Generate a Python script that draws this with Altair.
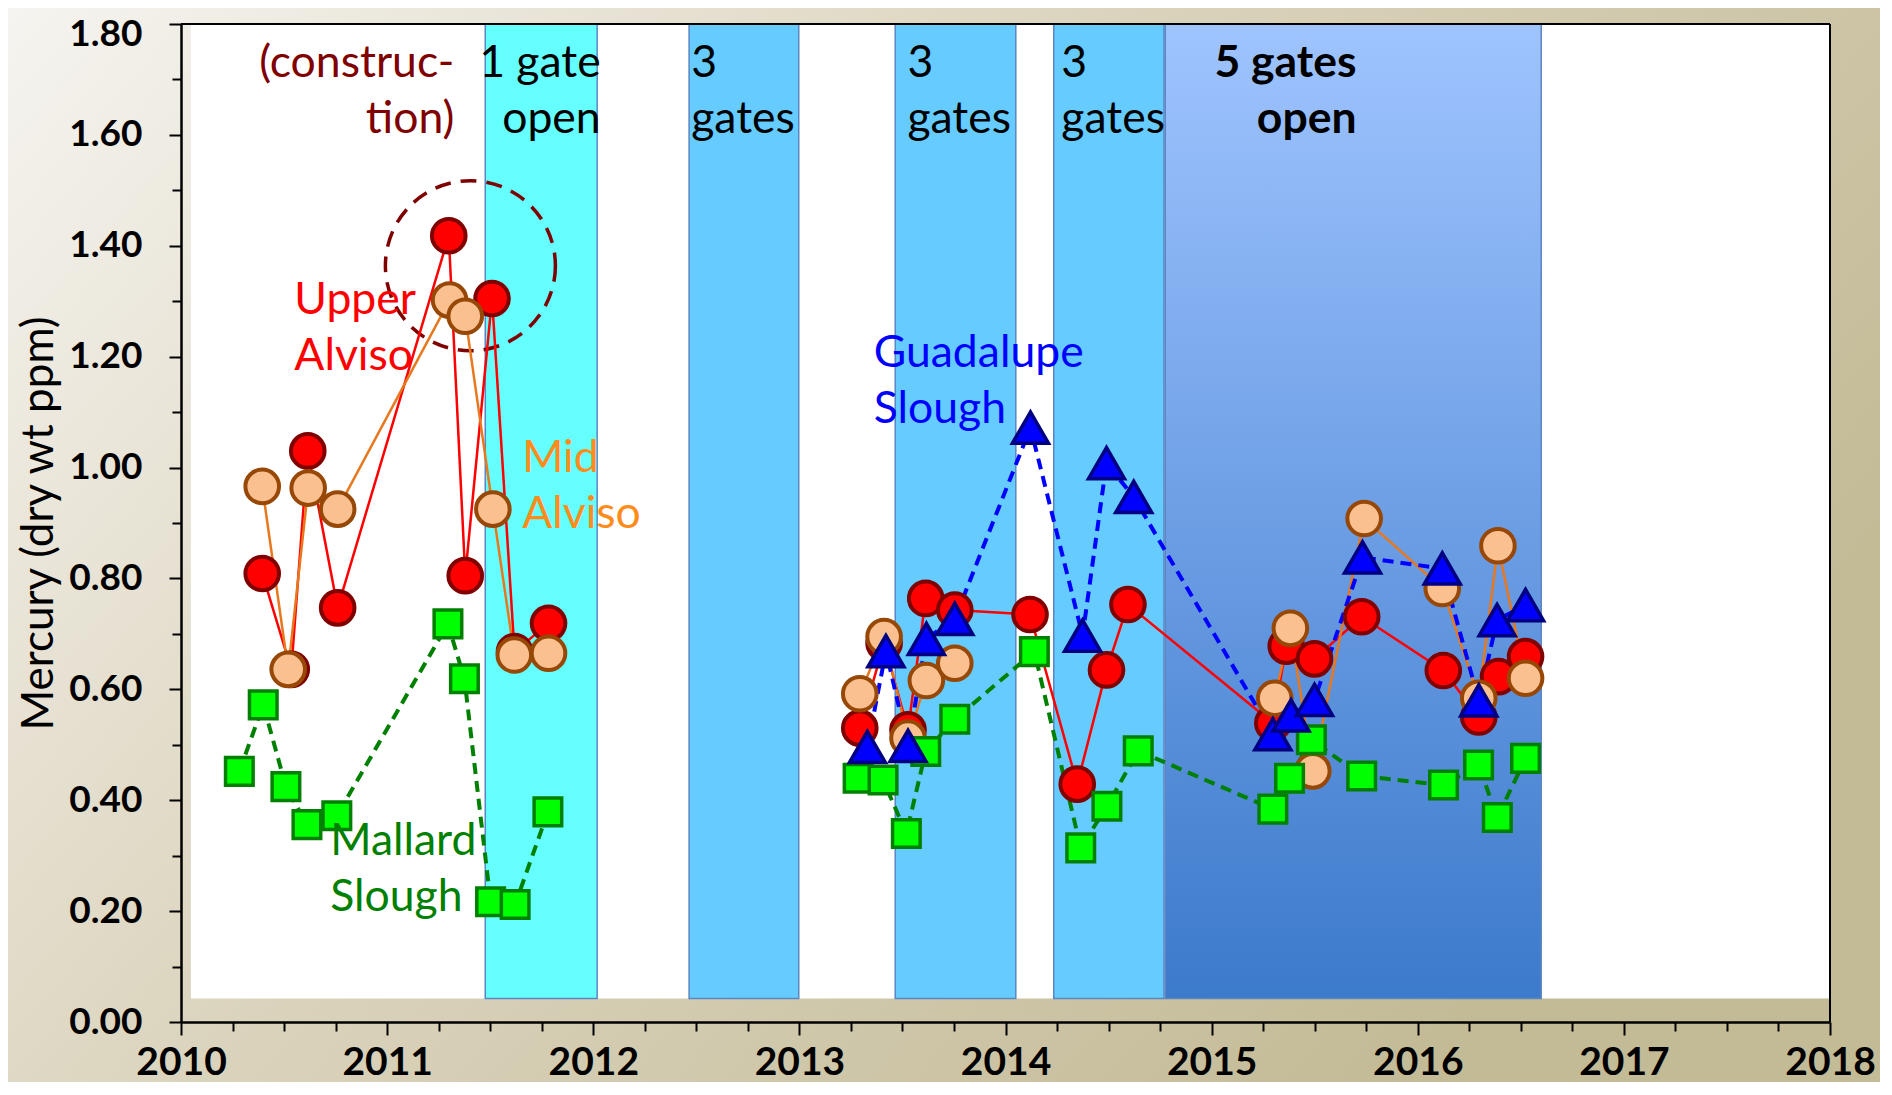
import altair as alt
import pandas as pd

# ---------------- data ----------------
# Upper Alviso (red circles, solid red line)
upper_t = [2010.394, 2010.535, 2010.615, 2010.760, 2011.299, 2011.379, 2011.509, 2011.618, 2011.783,
           2013.293, 2013.411, 2013.527, 2013.613, 2013.754, 2014.119, 2014.348, 2014.490, 2014.594,
           2015.297, 2015.362, 2015.499, 2015.728, 2016.124, 2016.296, 2016.392, 2016.523]
upper_v = [0.809, 0.636, 1.030, 0.747, 1.418, 0.805, 1.305, 0.668, 0.719,
           0.530, 0.683, 0.527, 0.764, 0.743, 0.735, 0.429, 0.635, 0.753,
           0.539, 0.678, 0.655, 0.731, 0.634, 0.550, 0.623, 0.659]
upper_seg = [0] * 9 + [1] * 17

# Mid Alviso (peach circles, orange line)
mid_t = [2010.394, 2010.520, 2010.617, 2010.760, 2011.303, 2011.379, 2011.513, 2011.617, 2011.783,
         2013.293, 2013.411, 2013.527, 2013.616, 2013.754,
         2015.306, 2015.382, 2015.491, 2015.740, 2016.119, 2016.296, 2016.389, 2016.523]
mid_v = [0.966, 0.636, 0.963, 0.925, 1.302, 1.273, 0.925, 0.662, 0.665,
         0.592, 0.695, 0.512, 0.616, 0.647,
         0.584, 0.710, 0.453, 0.908, 0.782, 0.584, 0.859, 0.620]
mid_seg = [0] * 9 + [1] * 5 + [2] * 8

# Guadalupe Slough (blue triangles, dashed blue line)
guad_t = [2013.330, 2013.420, 2013.527, 2013.616, 2013.754, 2014.121, 2014.374, 2014.490, 2014.622,
          2015.297, 2015.385, 2015.499, 2015.732, 2016.119, 2016.296, 2016.385, 2016.523]
guad_v = [0.496, 0.669, 0.498, 0.691, 0.727, 1.072, 0.697, 1.008, 0.947,
          0.519, 0.553, 0.581, 0.838, 0.818, 0.580, 0.725, 0.752]
guad_seg = [0] * 17

# Mallard Slough (green squares, dashed green line)
mallard_t = [2010.283, 2010.399, 2010.509, 2010.611, 2010.756, 2011.295, 2011.375, 2011.502, 2011.621, 2011.780,
             2013.285, 2013.406, 2013.519, 2013.613, 2013.754, 2014.140, 2014.365, 2014.492, 2014.644,
             2015.297, 2015.378, 2015.484, 2015.728, 2016.125, 2016.295, 2016.386, 2016.523]
mallard_v = [0.452, 0.572, 0.4245, 0.356, 0.372, 0.718, 0.619, 0.217, 0.212, 0.379,
             0.4395, 0.4364, 0.340, 0.488, 0.546, 0.668, 0.314, 0.389, 0.489,
             0.384, 0.4395, 0.509, 0.4437, 0.4274, 0.4635, 0.369, 0.4755]
mallard_seg = [0] * 10 + [1] * 17

# gate-opening periods
band_start = [2011.476, 2012.465, 2013.465, 2014.234]
band_end = [2012.019, 2012.997, 2014.050, 2014.769]
band_fill = ["#66ffff", "#66ccff", "#66ccff", "#66ccff"]
five_start = [2014.775]
five_end = [2016.599]
band_bottom = 0.0426

# text annotations
gate_text = ["1 gate\nopen", "3\ngates", "3\ngates", "3\ngates"]
gate_x = [2012.036, 2012.475, 2013.524, 2014.271]
gate_align = ["right", "left", "left", "left"]
five_text = ["5 gates\nopen"]
five_x = [2015.703]
constr_text = ["(construc-\ntion)"]
constr_x = [2011.326]
label_row_y = 1.705

series_text = ["Upper\nAlviso", "Mid\nAlviso", "Guadalupe\nSlough", "Mallard\nSlough"]
series_x = [2010.55, 2011.655, 2013.361, 2010.724]
series_y = [1.277, 0.992, 1.182, 0.301]
series_color = ["#ff0000", "#ff8c1a", "#0000ff", "#008000"]

# dashed circle around the 2011 peak
ring_x = [2011.404]
ring_y = [1.364]

# ---------------- tables ----------------
def series_df(t, v, s):
    return pd.DataFrame({"t": t, "v": v, "seg": s})

up_df = series_df(upper_t, upper_v, upper_seg)
mid_df = series_df(mid_t, mid_v, mid_seg)
gu_df = series_df(guad_t, guad_v, guad_seg)
ma_df = series_df(mallard_t, mallard_v, mallard_seg)

band_df = pd.DataFrame({"s": band_start, "e": band_end, "fill": band_fill,
                        "b": [band_bottom] * 4, "top": [1.8] * 4})
five_df = pd.DataFrame({"s": five_start, "e": five_end, "b": [band_bottom], "top": [1.8]})
white_df = pd.DataFrame({"s": [2010.048], "e": [2018.0], "b": [band_bottom], "top": [1.8]})
gate_df = pd.DataFrame({"x": gate_x, "y": [label_row_y] * 4, "label": gate_text, "al": gate_align})
five_lab_df = pd.DataFrame({"x": five_x, "y": [label_row_y], "label": five_text})
constr_df = pd.DataFrame({"x": constr_x, "y": [label_row_y], "label": constr_text})
series_lab_df = pd.DataFrame({"x": series_x, "y": series_y, "label": series_text, "color": series_color})
ring_df = pd.DataFrame({"x": ring_x, "y": ring_y})
top_df = pd.DataFrame({"y": [1.8]})
right_df = pd.DataFrame({"x": [2018.0]})
one_df = pd.DataFrame({"a": [0]})

# ---------------- scales & axes ----------------
FONT = "Lato"
W, H = 1649, 998
PAD = {"left": 173, "top": 16, "right": 50, "bottom": 60}

xs = alt.Scale(domain=[2010, 2018], nice=False, zero=False)
ys = alt.Scale(domain=[0, 1.8], nice=False, zero=False)

x_vals = [2010 + 0.25 * i for i in range(33)]
y_vals = [round(0.1 * i, 1) for i in range(19)]

x_axis = alt.Axis(
    title="", values=x_vals, grid=False,
    labelExpr="datum.value % 1 === 0 ? format(datum.value, 'd') : ''",
    labelFont=FONT, labelFontSize=39, labelFontWeight="bold", labelColor="black",
    labelBaseline="alphabetic", labelPadding=39, labelOverlap=False, labelFlush=False,
    tickSize={"condition": {"test": "datum.value % 1 === 0", "value": 13}, "value": 9},
    tickColor="black", tickWidth=2, domainColor="black", domainWidth=2.5, zindex=1,
)
y_axis = alt.Axis(
    title="Mercury (dry wt ppm)", values=y_vals, grid=False,
    labelExpr="round(datum.value * 10) % 2 === 0 ? format(datum.value, '.2f') : ''",
    labelFont=FONT, labelFontSize=37, labelFontWeight="bold", labelColor="black",
    labelPadding=27, labelOverlap=False, labelFlush=False,
    labelOffset={"condition": {"test": "datum.value >= 1.75", "value": 10}, "value": 0},
    tickSize={"condition": {"test": "round(datum.value * 10) % 2 === 0", "value": 12}, "value": 9},
    tickColor="black", tickWidth=2, domainColor="black", domainWidth=2.5,
    titleFont=FONT, titleFontSize=44, titleFontWeight="normal", titleColor="black",
    titleX=-129, titleY=H / 2, titleAngle=270, titleBaseline="alphabetic", titleAlign="center",
    zindex=1,
)


def X(f):
    return alt.X(f, type="quantitative", scale=xs, axis=x_axis)


def Y(f):
    return alt.Y(f, type="quantitative", scale=ys, axis=y_axis)


# ---------------- layers ----------------
bg = alt.Chart(one_df).mark_rect(
    fill=alt.Gradient(gradient="linear", x1=0, y1=0, x2=1, y2=0.5,
                      stops=[alt.GradientStop(color="#f6f4f0", offset=0),
                             alt.GradientStop(color="#dcd5bf", offset=0.45),
                             alt.GradientStop(color="#c3ba96", offset=1)])
).encode(x=alt.value(-PAD["left"]), x2=alt.value(W + PAD["right"]),
         y=alt.value(-PAD["top"]), y2=alt.value(H + PAD["bottom"]))

white = alt.Chart(white_df).mark_rect(fill="white").encode(x=X("s"), x2="e", y=Y("b"), y2="top")

bands = alt.Chart(band_df).mark_rect(stroke="#5a86c4", strokeWidth=1.5).encode(
    x=X("s"), x2="e", y=Y("b"), y2="top", fill=alt.Fill("fill:N", scale=None))

five = alt.Chart(five_df).mark_rect(
    fill=alt.Gradient(gradient="linear", x1=0, y1=0, x2=0, y2=1,
                      stops=[alt.GradientStop(color="#9fc4ff", offset=0),
                             alt.GradientStop(color="#3c7acb", offset=1)]),
    stroke="#5a86c4", strokeWidth=1.5,
).encode(x=X("s"), x2="e", y=Y("b"), y2="top")

ring = alt.Chart(ring_df).mark_point(
    shape="circle", size=28900, filled=False, color="#7f0000", strokeWidth=3.5,
    strokeDash=[16, 10], opacity=1,
).encode(x=X("x"), y=Y("y"))


def line(df, color, width, dash=None):
    kw = dict(color=color, strokeWidth=width)
    if dash:
        kw["strokeDash"] = dash
    return alt.Chart(df).mark_line(**kw).encode(x=X("t"), y=Y("v"), detail="seg:N")


def points(df, shape, fill, stroke, size, sw):
    return alt.Chart(df).mark_point(
        shape=shape, filled=True, fill=fill, stroke=stroke, size=size,
        strokeWidth=sw, opacity=1, strokeOpacity=1, fillOpacity=1,
    ).encode(x=X("t"), y=Y("v"))


lines = [
    line(up_df, "#ff0000", 2.5),
    line(mid_df, "#e8781e", 2.5),
    line(gu_df, "#0000ff", 4, [11, 7]),
    line(ma_df, "#008000", 4, [11, 7]),
]
pts = [
    points(up_df, "circle", "#ff0000", "#800000", 1130, 4),
    points(mid_df, "circle", "#fac090", "#974806", 1130, 4),
    points(ma_df, "square", "#00ff00", "#008000", 760, 3.5),
    points(gu_df, "triangle-up", "#0000ff", "#000080", 1300, 3.5),
]

TXT = dict(font=FONT, fontSize=44.5, baseline="alphabetic", lineBreak="\n", lineHeight=56)

gate_left = alt.Chart(gate_df[gate_df["al"] == "left"]).mark_text(align="left", color="black", **TXT).encode(
    x=X("x"), y=Y("y"), text="label:N")
gate_right = alt.Chart(gate_df[gate_df["al"] == "right"]).mark_text(align="right", color="black", **TXT).encode(
    x=X("x"), y=Y("y"), text="label:N")
five_lab = alt.Chart(five_lab_df).mark_text(align="right", color="black", fontWeight="bold", **TXT).encode(
    x=X("x"), y=Y("y"), text="label:N")
constr_lab = alt.Chart(constr_df).mark_text(align="right", color="#800000", **TXT).encode(
    x=X("x"), y=Y("y"), text="label:N")
series_lab = alt.Chart(series_lab_df).mark_text(align="left", **TXT).encode(
    x=X("x"), y=Y("y"), text="label:N", color=alt.Color("color:N", scale=None))

top_rule = alt.Chart(top_df).mark_rule(color="black", strokeWidth=2).encode(y=Y("y"))
right_rule = alt.Chart(right_df).mark_rule(color="black", strokeWidth=2).encode(x=X("x"))

chart = alt.layer(
    bg, white, bands, five, gate_left, gate_right, five_lab, constr_lab, ring,
    *lines, *pts, series_lab, top_rule, right_rule,
).properties(
    width=W, height=H,
    autosize=alt.AutoSizeParams(type="none"),
    padding=PAD,
    background="#dcd5bf",
).configure_view(stroke="transparent")

chart.save("out.html", embed_options={"renderer": "svg", "actions": False})
